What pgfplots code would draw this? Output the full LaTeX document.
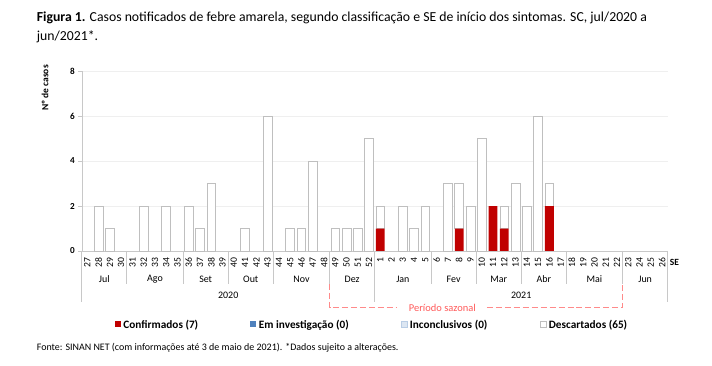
\documentclass[border=0pt]{standalone}
\usepackage{pgfplots}
\pgfplotsset{compat=1.18}
\usepackage{pgfplotstable}
\usepackage{fontspec}
\setmainfont{Carlito}
\definecolor{conf}{HTML}{C00000}
\definecolor{inv}{HTML}{4F81BD}
\definecolor{inc}{HTML}{DCE6F2}
\definecolor{incb}{HTML}{B9CDE5}
\definecolor{desb}{HTML}{BFBFBF}
\definecolor{sepc}{HTML}{C8C8C8}
\definecolor{grd}{HTML}{EFEFEF}
\definecolor{saz}{HTML}{FF8A8A}
\definecolor{sazt}{HTML}{FF5A5A}
\pgfplotstableread{
x wk conf inv inc desc
0 27 0 0 0 0
1 28 0 0 0 2
2 29 0 0 0 1
3 30 0 0 0 0
4 31 0 0 0 0
5 32 0 0 0 2
6 33 0 0 0 0
7 34 0 0 0 2
8 35 0 0 0 0
9 36 0 0 0 2
10 37 0 0 0 1
11 38 0 0 0 3
12 39 0 0 0 0
13 40 0 0 0 0
14 41 0 0 0 1
15 42 0 0 0 0
16 43 0 0 0 6
17 44 0 0 0 0
18 45 0 0 0 1
19 46 0 0 0 1
20 47 0 0 0 4
21 48 0 0 0 0
22 49 0 0 0 1
23 50 0 0 0 1
24 51 0 0 0 1
25 52 0 0 0 5
26 1 1 0 0 1
27 2 0 0 0 0
28 3 0 0 0 2
29 4 0 0 0 1
30 5 0 0 0 2
31 6 0 0 0 0
32 7 0 0 0 3
33 8 1 0 0 2
34 9 0 0 0 2
35 10 0 0 0 5
36 11 2 0 0 0
37 12 1 0 0 1
38 13 0 0 0 3
39 14 0 0 0 2
40 15 0 0 0 6
41 16 2 0 0 1
42 17 0 0 0 0
43 18 0 0 0 0
44 19 0 0 0 0
45 20 0 0 0 0
46 21 0 0 0 0
47 22 0 0 0 0
48 23 0 0 0 0
49 24 0 0 0 0
50 25 0 0 0 0
51 26 0 0 0 0
}\casos
\begin{document}
\begin{tikzpicture}
\path[use as bounding box] (0,0) rectangle (712bp,366bp);
\node[anchor=base west, inner sep=0pt, font=\fontsize{13.8}{15}\selectfont] at (36.7bp,344.3bp)
  {\textbf{Figura 1.} Casos notificados de febre amarela, segundo classificação e SE de início dos sintomas. SC, jul/2020 a};
\node[anchor=base west, inner sep=0pt, font=\fontsize{13.8}{15}\selectfont] at (36.7bp,325.3bp) {jun/2021*.};
\node[anchor=base west, inner sep=0pt, font=\fontsize{10}{11}\selectfont] at (36.7bp,16bp)
  {Fonte: SINAN NET (com informações até 3 de maio de 2021). *Dados sujeito a alterações.};
\node[rotate=90, anchor=east, inner sep=0pt, font=\bfseries\fontsize{9.5}{10}\selectfont] at (45bp,301bp) {Nº de casos};
\begin{axis}[
  at={(81.7bp,115bp)}, anchor=south west, scale only axis,
  width=586bp, height=180bp,
  xmin=-0.5, xmax=51.5, ymin=0, ymax=8,
  ybar stacked, bar width=0.78,
  axis lines=left, axis line style={draw=sepc, -},
  xtick=data, xticklabels from table={\casos}{wk},
  xtick style={draw=none},
  ytick={0,2,4,6,8}, ytick style={draw=sepc},
  tick align=outside, major tick length=3.5pt,
  ymajorgrids, grid style={draw=grd, line width=0.6pt},
  xticklabel style={rotate=90, anchor=east, font=\fontsize{9.7}{9.7}\selectfont},
  yticklabel style={font=\bfseries\fontsize{9.2}{9.2}\selectfont},
  /pgf/number format/assume math mode=true,
  clip=false,
  legend columns=4,
  legend cell align=left,
  legend style={at={(0.0568,-0.407)}, anchor=west, draw=none, fill=none,
    inner sep=0pt, outer sep=0pt,
    font=\bfseries\fontsize{11.3}{12}\selectfont,
    nodes={inner sep=0pt, text depth=0pt},
    /tikz/every odd column/.style={column sep=0pt},
    /tikz/every even column/.style={column sep=0pt}},
]
\addplot[fill=conf, draw=none,
  legend image code/.code={\fill[conf] (0pt,-3pt) rectangle (6pt,3pt);}]
  table[x=x, y=conf]{\casos};
\addlegendentry{\makebox[130pt][l]{\hspace{2.5pt}Confirmados (7)}}
\addplot[fill=inv, draw=none,
  legend image code/.code={\fill[inv] (0pt,-3pt) rectangle (6pt,3pt);}]
  table[x=x, y=inv]{\casos};
\addlegendentry{\makebox[145pt][l]{\hspace{2.5pt}Em investigação (0)}}
\addplot[fill=inc, draw=none,
  legend image code/.code={\draw[fill=inc, draw=incb, line width=0.5pt] (0pt,-3pt) rectangle (6pt,3pt);}]
  table[x=x, y=inc]{\casos};
\addlegendentry{\makebox[133pt][l]{\hspace{2.5pt}Inconclusivos (0)}}
\addplot[fill=white, draw=desb, line width=0.7pt,
  legend image code/.code={\draw[fill=white, draw=desb, line width=0.5pt] (0pt,-3pt) rectangle (6pt,3pt);}]
  table[x=x, y=desc]{\casos};
\addlegendentry{\hspace{2.5pt}Descartados (65)}
\pgfplotsinvokeforeach{-0.5,25.5,51.5}{\draw[sepc, line width=0.7pt] (axis cs:#1,0) -- ++(0pt,-51pt);}
\pgfplotsinvokeforeach{3.5,8.5,12.5,16.5,21.5,30.5,34.5,38.5,42.5,47.5}{\draw[sepc, line width=0.7pt] (axis cs:#1,0) -- ++(0pt,-33pt);}
\node[font=\fontsize{10}{10}\selectfont, inner sep=0pt] at ([yshift=-28pt]axis cs:1.5,0) {Jul};
\node[font=\fontsize{10}{10}\selectfont, inner sep=0pt] at ([yshift=-28pt]axis cs:6,0) {Ago};
\node[font=\fontsize{10}{10}\selectfont, inner sep=0pt] at ([yshift=-28pt]axis cs:10.5,0) {Set};
\node[font=\fontsize{10}{10}\selectfont, inner sep=0pt] at ([yshift=-28pt]axis cs:14.5,0) {Out};
\node[font=\fontsize{10}{10}\selectfont, inner sep=0pt] at ([yshift=-28pt]axis cs:19,0) {Nov};
\node[font=\fontsize{10}{10}\selectfont, inner sep=0pt] at ([yshift=-28pt]axis cs:23.5,0) {Dez};
\node[font=\fontsize{10}{10}\selectfont, inner sep=0pt] at ([yshift=-28pt]axis cs:28,0) {Jan};
\node[font=\fontsize{10}{10}\selectfont, inner sep=0pt] at ([yshift=-28pt]axis cs:32.5,0) {Fev};
\node[font=\fontsize{10}{10}\selectfont, inner sep=0pt] at ([yshift=-28pt]axis cs:36.5,0) {Mar};
\node[font=\fontsize{10}{10}\selectfont, inner sep=0pt] at ([yshift=-28pt]axis cs:40.5,0) {Abr};
\node[font=\fontsize{10}{10}\selectfont, inner sep=0pt] at ([yshift=-28pt]axis cs:45,0) {Mai};
\node[font=\fontsize{10}{10}\selectfont, inner sep=0pt] at ([yshift=-28pt]axis cs:49.5,0) {Jun};
\node[font=\fontsize{10}{10}\selectfont, inner sep=0pt] at ([yshift=-44.7pt]axis cs:12.5,0) {2020};
\node[font=\fontsize{10}{10}\selectfont, inner sep=0pt] at ([yshift=-44.7pt]axis cs:38.5,0) {2021};
\node[anchor=west, inner sep=0pt, font=\bfseries\fontsize{9.5}{10}\selectfont] at ([xshift=2pt,yshift=-11pt]axis cs:51.5,0) {SE};
\draw[saz, line width=0.8pt, dash pattern=on 6pt off 3pt]
  ([yshift=-33pt]axis cs:21.5,0) -- ([yshift=-56.7pt]axis cs:21.5,0) -- ([yshift=-56.7pt]axis cs:27.5,0);
\draw[saz, line width=0.8pt, dash pattern=on 6pt off 3pt]
  ([yshift=-56.7pt]axis cs:35.45,0) -- ([yshift=-56.7pt]axis cs:47.5,0) -- ([yshift=-33pt]axis cs:47.5,0);
\node[text=sazt, inner sep=0pt, font=\fontsize{10.5}{11}\selectfont] at ([yshift=-56.7pt]axis cs:31.5,0) {Período sazonal};
\end{axis}
\end{tikzpicture}
\end{document}
